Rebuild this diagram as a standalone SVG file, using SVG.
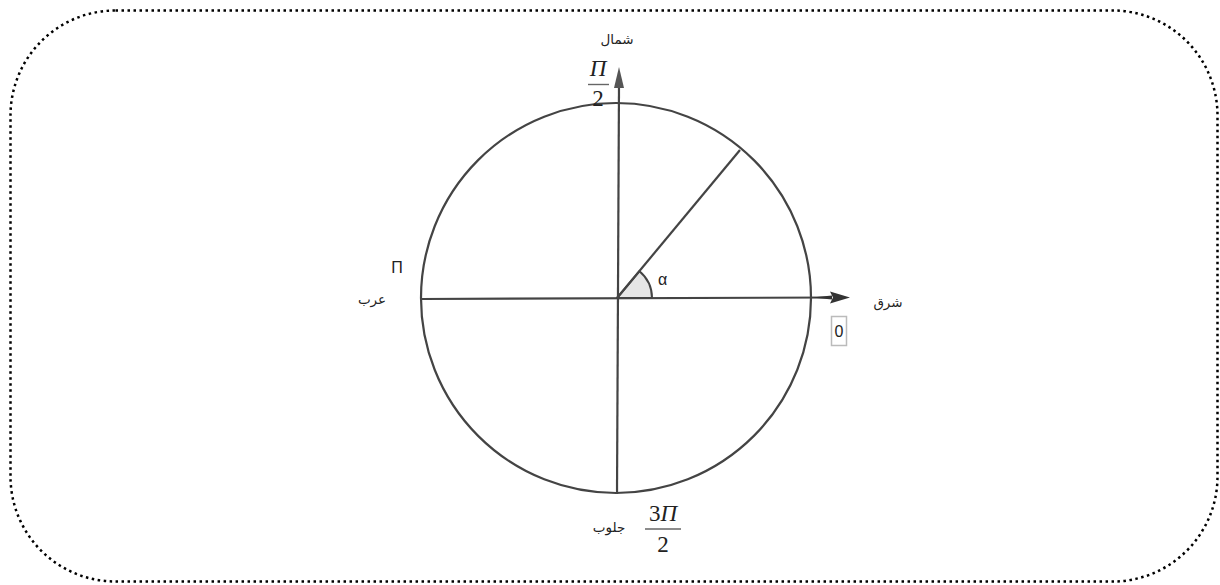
<svg xmlns="http://www.w3.org/2000/svg" width="1220" height="585" viewBox="0 0 1220 585">
<style>
.ln{stroke:#444;stroke-width:2.2;fill:none}
.ar{font-family:"DejaVu Sans","Noto Sans",sans-serif;font-size:13.5px;fill:#222}
.math{font-family:"Liberation Serif","DejaVu Serif",serif;font-size:23px;fill:#222;text-anchor:middle}
.sans{font-family:"Liberation Sans",Arial,sans-serif;font-size:16px;fill:#222}
.frac{stroke:#666;stroke-width:1.4}
</style>
<rect x="10.5" y="10.5" width="1207" height="571" rx="105" ry="105" fill="#fff" stroke="#000" stroke-width="2.5" stroke-dasharray="2.5 3.5"/>
<g id="circle">
<circle cx="616" cy="298" r="195" class="ln"/>
</g>
<g id="angle">
<path d="M617,298 L652,298 A35,35 0 0 0 639.5,271.2 Z" fill="#e6e6e6" stroke="#444" stroke-width="2"/>
<text x="658" y="285" class="sans">α</text>
</g>
<g id="connectors">
<line x1="421" y1="299" x2="832" y2="297.5" class="ln"/>
<polygon points="850,297.5 830,291.5 833,297.5 830,303.5" fill="#333"/>
<path d="M812,297.5 L832,295.5 L832,299.5 Z" fill="#333"/>
<line x1="617" y1="494" x2="619" y2="85" class="ln"/>
<polygon points="619,67 614,88 624,88" fill="#555"/>
<line x1="617" y1="298" x2="740" y2="150" class="ln"/>
</g>
<g id="north">
<text x="617" y="44" class="ar" text-anchor="middle">شمال</text>
<text x="598" y="76" class="math" font-style="italic">Π</text>
<line x1="588" y1="84.5" x2="609" y2="84.5" class="frac"/>
<text x="598" y="106" class="math">2</text>
</g>
<g id="west">
<text x="397" y="273" class="sans" text-anchor="middle">Π</text>
<text x="372" y="304" class="ar" text-anchor="middle">عرب</text>
</g>
<g id="east">
<text x="888" y="307" class="ar" text-anchor="middle">شرق</text>
<rect x="831.5" y="316.5" width="15" height="29" fill="#fff" stroke="#bbb" stroke-width="1.5"/>
<text x="839" y="337" class="sans" text-anchor="middle">0</text>
</g>
<g id="south">
<text x="609" y="532" class="ar" text-anchor="middle">جلوب</text>
<text x="663" y="521" class="math"><tspan font-style="normal">3</tspan><tspan font-style="italic">Π</tspan></text>
<line x1="645" y1="529" x2="681" y2="529" class="frac"/>
<text x="663" y="552" class="math">2</text>
</g>
</svg>
